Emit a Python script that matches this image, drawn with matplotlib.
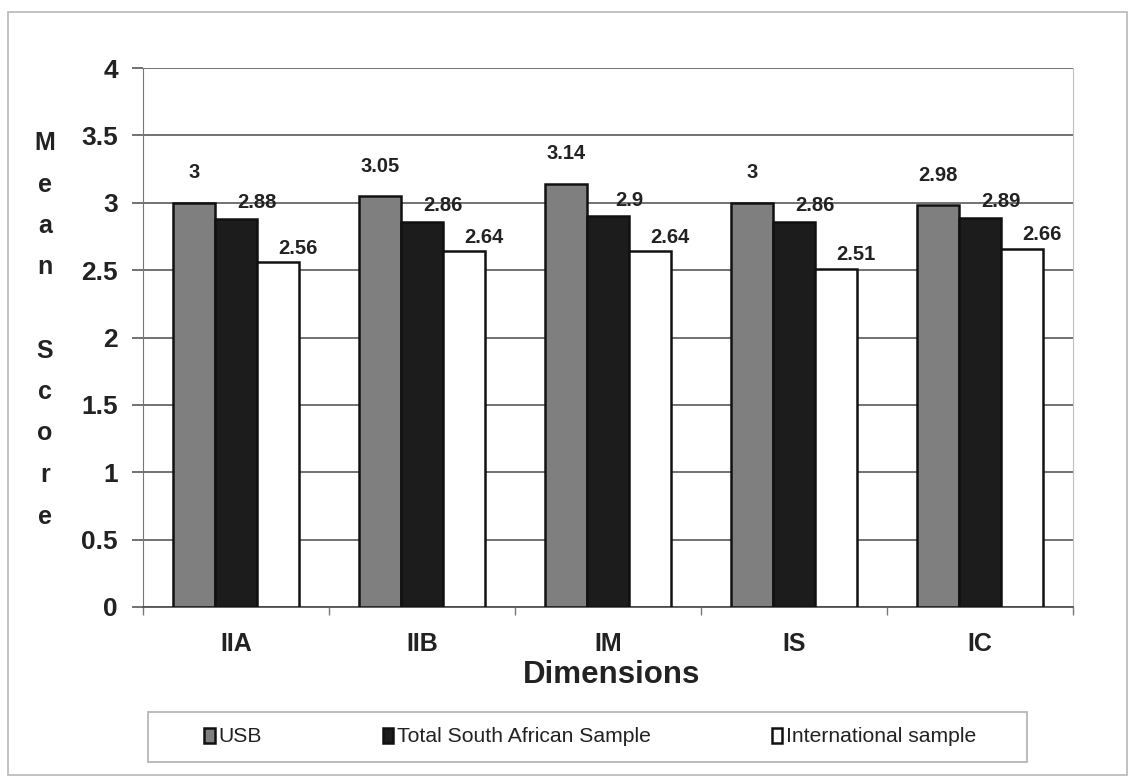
import matplotlib
matplotlib.use("Agg")
import matplotlib.pyplot as plt
from matplotlib.patches import Rectangle
import numpy as np

dimensions = ["IIA", "IIB", "IM", "IS", "IC"]
usb = [3.00, 3.05, 3.14, 3.00, 2.98]
total_sa = [2.88, 2.86, 2.90, 2.86, 2.89]
international = [2.56, 2.64, 2.64, 2.51, 2.66]
series_names = ["USB", "Total South African Sample", "International sample"]


def fmt(v):
    return ("%.2f" % v).rstrip("0").rstrip(".")


def main():
    plt.rcParams["font.family"] = ["Liberation Sans", "DejaVu Sans"]
    fig = plt.figure(figsize=(11.33, 7.82), dpi=100)
    W, H = 1133.0, 782.0

    # outer chart frame
    fig.patches.append(Rectangle((8 / W, 1 - 775 / H), 1119 / W, 763 / H,
                                 transform=fig.transFigure, fill=False,
                                 edgecolor="#b8b8b8", linewidth=1.2))
    # legend frame
    fig.patches.append(Rectangle((148 / W, 1 - 762 / H), 879 / W, 50 / H,
                                 transform=fig.transFigure, fill=False,
                                 edgecolor="#b0b0b0", linewidth=1.2))

    ax = fig.add_axes([143 / W, 1 - 607 / H, 930 / W, 539 / H])
    x = np.arange(len(dimensions))
    w = 0.225
    series = [usb, total_sa, international]
    colors = ["#7f7f7f", "#1c1c1c", "#ffffff"]
    label_offsets = [(0, 30), (21, 16), (20, 14)]

    for i, (vals, col) in enumerate(zip(series, colors)):
        bars = ax.bar(x + (i - 1) * w, vals, w, color=col, edgecolor="#111111",
                      linewidth=1.8, label=series_names[i], zorder=3)
        for b, v in zip(bars, vals):
            ax.annotate(fmt(v), (b.get_x() + b.get_width() / 2, v),
                        xytext=label_offsets[i], textcoords="offset pixels",
                        ha="center", va="center", fontsize=14.5,
                        fontweight="bold", color="#222222", zorder=4)

    ax.set_xlim(-0.5, len(dimensions) - 0.5)
    ax.set_ylim(0, 4)
    ax.set_yticks(np.arange(0, 4.01, 0.5))
    ax.set_yticklabels(["0", "0.5", "1", "1.5", "2", "2.5", "3", "3.5", "4"],
                       fontsize=19, fontweight="bold", color="#222222")
    ax.yaxis.grid(True, color="#5a5a5a", linewidth=1.2, zorder=0)
    ax.tick_params(axis="y", length=8, width=1.2, color="#5a5a5a", pad=10)

    ax.set_xticks(x)
    ax.set_xticklabels(dimensions, fontsize=18, fontweight="bold", color="#222222")
    ax.set_xticks(np.arange(-0.5, len(dimensions), 1.0), minor=True)
    ax.tick_params(axis="x", which="major", length=0, pad=18)
    ax.tick_params(axis="x", which="minor", length=6, width=1.0, color="#777777")

    ax.spines["top"].set_visible(False)
    ax.spines["left"].set_color("#777777")
    ax.spines["bottom"].set_color("#555555")
    ax.spines["bottom"].set_linewidth(1.3)
    ax.spines["right"].set_color("#c0c0c0")

    fig.text(612 / W, 1 - 675 / H, "Dimensions", ha="center", va="center",
             fontsize=22.5, fontweight="bold", color="#222222")

    # stacked y axis title
    letters = ["M", "e", "a", "n", "", "S", "c", "o", "r", "e"]
    for k, ch in enumerate(letters):
        fig.text(45 / W, 1 - (143 + k * 41.5) / H, ch, ha="center", va="center",
                 fontsize=18, fontweight="bold", color="#222222")

    leg = fig.legend(loc="center left", bbox_to_anchor=(204 / W, 1 - 737 / H),
                     ncol=3, fontsize=15.2, frameon=False,
                     handlelength=0.5, handleheight=0.7, handletextpad=0.2,
                     columnspacing=5.7, borderpad=0, borderaxespad=0)
    for t in leg.get_texts():
        t.set_color("#222222")

    fig.savefig("out.png", dpi=100)


if __name__ == "__main__":
    main()
